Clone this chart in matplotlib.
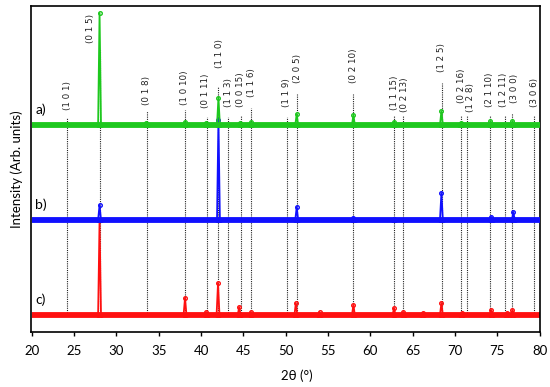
import matplotlib
matplotlib.use('Agg')
import matplotlib.pyplot as plt

# stacked XRD patterns, y in arbitrary units (offset per sample)
offsets = {'a)': 207, 'b)': 112, 'c)': 17}
colors = {'a)': '#1ec81e', 'b)': '#1010ff', 'c)': '#ff1010'}

pos_a = [28.0, 33.5, 38.1, 40.6, 42.05, 44.6, 45.9, 51.3, 58.0, 62.8, 68.4, 70.7, 74.2, 76.8]
hgt_a = [112, 2, 3, 2, 27, 2, 3, 11, 10, 3, 14, 2, 4, 4]

pos_b = [28.0, 42.05, 51.3, 58.0, 62.8, 68.4, 74.3, 76.9]
hgt_b = [15, 100, 13, 2, 1, 27, 3, 8]

pos_c = [28.0, 38.1, 40.6, 42.0, 44.5, 45.9, 51.2, 54.0, 58.0, 62.8, 63.9, 66.2, 68.4, 70.8, 74.3, 76.1, 76.8]
hgt_c = [95, 17, 3, 32, 8, 3, 12, 3, 10, 7, 3, 2, 12, 2, 5, 2, 5]

# reflections (Miller indices) and top of their marker lines
hkl = ['(1 0 1)', '(0 1 5)', '(0 1 8)', '(1 0 10)', '(0 1 11)', '(1 1 0)', '(1 1 3)',
       '(0 0 15)', '(1 1 6)', '(1 1 9)', '(2 0 5)', '(0 2 10)', '(1 1 15)', '(0 2 13)',
       '(1 2 5)', '(0 2 16)', '(1 2 8)', '(2 1 10)', '(1 2 11)', '(3 0 0)', '(3 0 6)']
hkl_pos = [24.2, 28.04, 33.56, 38.09, 40.65, 42.02, 43.2, 44.67, 45.9, 50.18, 51.29,
           57.98, 62.83, 63.82, 68.43, 70.71, 71.38, 74.14, 75.91, 76.77, 79.37]
hkl_top = [214, 282, 221, 222, 215, 245, 215, 217, 224, 215, 238,
           238, 217, 217, 249, 217, 217, 217, 217, 219, 217]
hkl_gap = [8, 7, 6, 5, 9, 19, 10, 8, 11, 10, 11, 11, 5, 3, 11, 12, 3, 8, 8, 10, 8]
hkl_dx = [0, -1.1, 0, 0, -0.1, 0.1, 0, 0, 0, -0.1, 0.1, 0, 0, 0.25, 0, 0.1, 0.45, 0, -0.15, 0.3, 0]

series = {'a)': (pos_a, hgt_a), 'b)': (pos_b, hgt_b), 'c)': (pos_c, hgt_c)}

plt.rcParams['font.family'] = ['Lato', 'DejaVu Sans']
fig = plt.figure(figsize=(5.5, 3.87), dpi=100)
ax = fig.add_axes([0.0564, 0.1421, 0.9254, 0.8424])

# dotted reflection markers
for lab, x, top, gap, dx in zip(hkl, hkl_pos, hkl_top, hkl_gap, hkl_dx):
    ax.plot([x, x], [offsets['c)'], top], color='#222222', lw=0.8,
            ls=(0, (1, 1)), zorder=1)
    ax.text(x + dx, top + gap, lab, rotation=90, ha='center', va='bottom',
            fontsize=6.3, family='DejaVu Sans', color='#222222')

w = 0.17
zorders = {'c)': 2, 'b)': 3, 'a)': 4}
for name in ['c)', 'b)', 'a)']:
    pos, hgt = series[name]
    base = offsets[name]
    col = colors[name]
    ax.plot([20, 80], [base, base], color=col, lw=4.2, solid_capstyle='butt',
            zorder=zorders[name])
    for p, h in zip(pos, hgt):
        ax.plot([p - w, p, p + w], [base, base + h, base], color=col, lw=1.3,
                marker='o', ms=2.6, mfc='none', mew=1.0, zorder=zorders[name])
    ax.text(20.4, base + 15, name, fontsize=10, va='center', ha='left')

ax.set_xlim(19.9, 80.05)
ax.set_ylim(0, 326)
ax.set_xticks(range(20, 81, 5))
ax.set_yticks([])
ax.tick_params(axis='x', direction='out', length=3, width=1, labelsize=9.5, pad=6)
for s in ax.spines.values():
    s.set_linewidth(1.2)
ax.set_ylabel('Intensity (Arb. units)', fontsize=9.5, labelpad=6)
ax.set_xlabel('2θ (°)', fontsize=9.5, labelpad=7)
ax.xaxis.set_label_coords(0.523, -0.115)

fig.savefig('out.png', dpi=100)
